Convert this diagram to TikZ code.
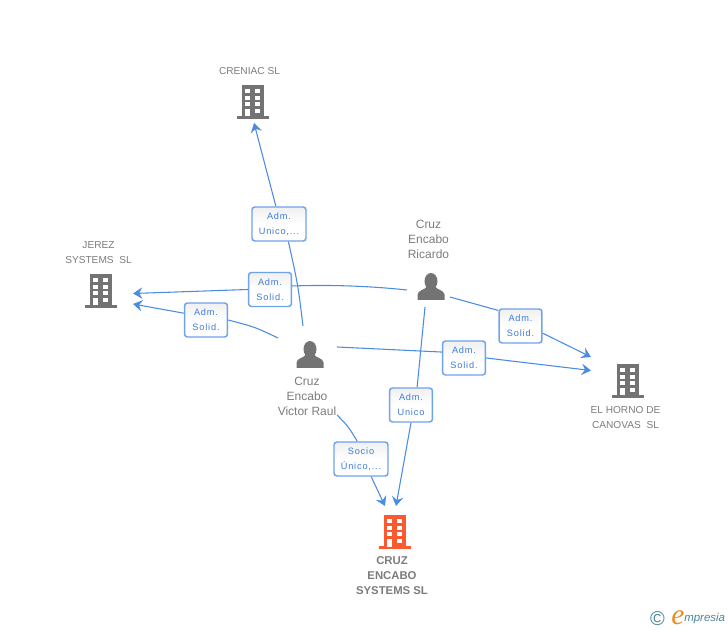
\documentclass[tikz,border=0pt]{standalone}
\usepackage{fontspec}
\setmainfont{Liberation Sans}
\newfontfamily\edgefont[LetterSpace=9]{Liberation Sans}
\newfontfamily\logoefont{Liberation Serif}
\usetikzlibrary{arrows.meta}
\definecolor{linkblue}{HTML}{4A8BE3}
\definecolor{boxblue}{HTML}{6FA3EA}
\definecolor{edgetext}{HTML}{3C7BDB}
\definecolor{icongray}{HTML}{737373}
\definecolor{textgray}{HTML}{7C7C7C}
\definecolor{iconorange}{HTML}{FB5A30}
\definecolor{logoteal}{HTML}{4B8499}
\definecolor{logoorange}{HTML}{F28A1E}
\tikzset{
  x=0.75pt,y=-0.75pt,
  conn/.style={draw=linkblue,line width=0.8pt},
  connarrow/.style={conn,-{Stealth[length=7pt,width=8.5pt,inset=2.5pt]}},
  edgelabel/.style={draw=boxblue,line width=1.1pt,rounded corners=2.2pt,top color=black!6,bottom color=white,middle color=white,
    minimum height=25.5pt,inner sep=0pt,text=edgetext,align=center,
    font=\edgefont\fontsize{6.9pt}{11.2pt}\selectfont},
  narrowlabel/.style={edgelabel,minimum width=32.2pt},
  widelabel/.style={edgelabel,minimum width=40.5pt},
  smalltext/.style={text=textgray,align=center,inner sep=0pt,font=\fontsize{7.6pt}{11.25pt}\selectfont},
  persontext/.style={text=textgray,align=center,inner sep=0pt,font=\fontsize{9pt}{11.25pt}\selectfont},
  maintext/.style={text=textgray,align=center,inner sep=0pt,font=\bfseries\fontsize{8.5pt}{11.25pt}\selectfont},
  iconspot/.style={inner sep=0pt,minimum width=24pt,minimum height=25.5pt},
  pics/building/.style={code={
    \fill[#1] (-11,-17) rectangle (11,14.5);
    \fill[#1] (-16,14) rectangle (16,17);
    \foreach \wy in {-13,-6.3,0}{
      \fill[white] (-8,\wy) rectangle (-3,\wy+4);
      \fill[white] (2,\wy) rectangle (7,\wy+4);
    }
    \fill[white] (-8,7) rectangle (-3,14.5);
    \fill[white] (2,7) rectangle (7,11);
  }},
  pics/person/.style={code={
    \fill[icongray] (0,-5.2) ellipse [x radius=6.5, y radius=8.3];
    \fill[icongray] (-13.5,13.5) -- (-13.5,8) .. controls (-13,3.5) and (-6,3.5) .. (-4,0)
      -- (4,0) .. controls (6,3.5) and (13,3.5) .. (13.5,8) -- (13.5,13.5) -- cycle;
  }},
}
\begin{document}
\begin{tikzpicture}
\useasboundingbox (0,0) rectangle (728,630);
% icons
\node[iconspot] (creniac) at (252.5,102) {};
\pic at (creniac) {building=icongray};
\node[iconspot] (jerez) at (101,291) {};
\pic at (jerez) {building=icongray};
\node[iconspot] (horno) at (628,381) {};
\pic at (horno) {building=icongray};
\node[iconspot] (cruz) at (395,532) {};
\pic at (cruz) {building=iconorange};
\node[iconspot] (victor) at (310,354.5) {};
\pic at (victor) {person};
\node[iconspot] (ricardo) at (431,286.5) {};
\pic at (ricardo) {person};
% texts
\node[smalltext] (creniactext) at (249.5,71) {CRENIAC SL};
\node[smalltext] (jereztext) at (98.5,253) {JEREZ\\SYSTEMS\ \ SL};
\node[smalltext] (hornotext) at (625.5,417.5) {EL HORNO DE\\CANOVAS\ \ SL};
\node[maintext] (cruztext) at (392,575.5) {CRUZ\\ENCABO\\SYSTEMS SL};
\node[persontext] (victortext) at (307,396.5) {Cruz\\Encabo\\Victor Raul};
\node[persontext] (ricardotext) at (428.5,239) {Cruz\\Encabo\\Ricardo};
% edge labels
\node[widelabel] (lab1) at (279,224) {Adm.\\Unico,...};
\node[narrowlabel] (lab2) at (270,289.5) {Adm.\\Solid.};
\node[narrowlabel] (lab3) at (206,320) {Adm.\\Solid.};
\node[narrowlabel] (lab4) at (520.5,326) {Adm.\\Solid.};
\node[narrowlabel] (lab5) at (464,358) {Adm.\\Solid.};
\node[narrowlabel] (lab6) at (411,405) {Adm.\\Unico};
\node[widelabel] (lab7) at (361,459) {Socio\\Único,...};
% free ends of the connectors
\coordinate (victorN) at (303,326);
\coordinate (victorW) at (278,338);
\coordinate (victorE) at (337,347);
\coordinate (victorS) at (337,415);
\coordinate (ricardoW) at (407,290);
\coordinate (ricardoE) at (450,297);
\coordinate (ricardoS) at (425,307);
\coordinate (creniacS) at (254,123);
\coordinate (jerezE) at (133,293.5);
\coordinate (jerezSE) at (133,304);
\coordinate (hornoW) at (591,357);
\coordinate (hornoSW) at (591,370.5);
\coordinate (cruzN) at (396,506);
\coordinate (cruzNW) at (385,506);
% connectors
\draw[conn] (victorN) .. controls (298,285) .. (lab1.-62);
\draw[connarrow] (lab1.100) -- (creniacS);
\draw[conn] (ricardoW) .. controls (360,285) and (320,285) .. (lab2.9);
\draw[connarrow] (lab2.west) -- (jerezE);
\draw[conn] (victorW) .. controls (255,327) .. (lab3.east);
\draw[connarrow] (lab3.163) -- (jerezSE);
\draw[conn] (ricardoE) -- (lab4.145);
\draw[connarrow] (lab4.-18) -- (hornoW);
\draw[conn] (victorE) .. controls (390,349) .. (lab5.165);
\draw[connarrow] (lab5.east) -- (hornoSW);
\draw[conn] (ricardoS) -- (lab6.71);
\draw[connarrow] (lab6.south) -- (cruzN);
\draw[conn] (victorS) .. controls (348,426) .. (lab7.102);
\draw[connarrow] (lab7.-60) -- (cruzNW);
% logo
\node[inner sep=0pt,text=logoteal,font=\fontsize{15pt}{16pt}\selectfont] (copyright) at (657.5,619) {©};
\node[inner sep=0pt,text=logoorange,font=\logoefont\itshape\fontsize{22pt}{22pt}\selectfont] (logoe) at (678,617.5) {e};
\node[inner sep=0pt,text=logoteal,font=\itshape\fontsize{8.6pt}{10pt}\selectfont,anchor=west] (logotext) at (684,619) {mpresia};
\end{tikzpicture}
\end{document}
